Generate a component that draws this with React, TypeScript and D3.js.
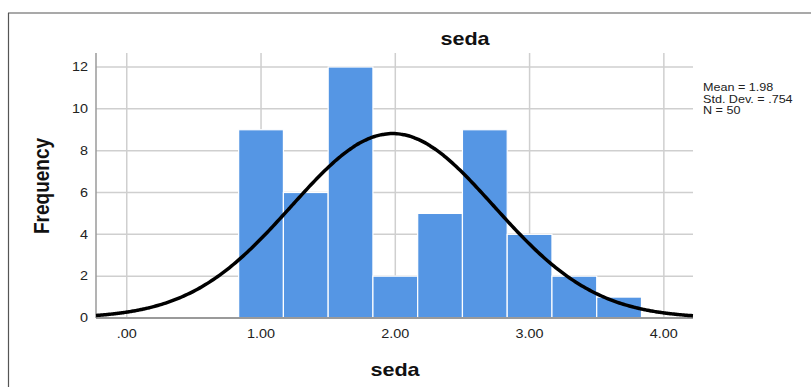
import React, { useEffect } from "react";
import * as d3 from "d3";

const binStarts = [5 / 6, 7 / 6, 9 / 6, 11 / 6, 13 / 6, 15 / 6, 17 / 6, 19 / 6, 21 / 6];
const binWidth = 1 / 3;
const counts = [9, 6, 12, 2, 5, 9, 4, 2, 1];
const xTicks = [0, 1, 2, 3, 4];
const xTickLabels = [".00", "1.00", "2.00", "3.00", "4.00"];
const yTicks = [0, 2, 4, 6, 8, 10, 12];
const mean = 1.98;
const sd = 0.754;
const n = 50;
const statsLines = ["Mean = 1.98", "Std. Dev. = .754", "N = 50"];

const W = 811, H = 387;
const L = 96, R = 693, T = 53, B = 318;
const SX = 1.2;

function SText(props: { x: number; y: number; anchor?: string; size: number; bold?: boolean; children: React.ReactNode }) {
  return (
    <g transform={`translate(${props.x},${props.y}) scale(${SX},1)`}>
      <text x={0} y={0} textAnchor={props.anchor || "start"} fontSize={props.size}
        fontWeight={props.bold ? "bold" : "normal"} fill={props.bold ? "#111" : "#222"}>{props.children}</text>
    </g>
  );
}

export default function App() {
  useEffect(() => {
    document.body.style.margin = "0";
  }, []);
  const x = d3.scaleLinear().domain([-0.229, 4.217]).range([L, R]);
  const y = d3.scaleLinear().domain([0, 12]).range([B, 67]);
  const font = "'Liberation Sans', Arial, sans-serif";
  const pts = d3.range(0, 301).map(i => {
    const v = -0.229 + (4.217 + 0.229) * i / 300;
    const dens = n * binWidth / (sd * Math.sqrt(2 * Math.PI)) * Math.exp(-0.5 * ((v - mean) / sd) ** 2);
    return [v, dens] as [number, number];
  });
  const line = d3.line<[number, number]>().x(d => x(d[0])).y(d => y(d[1])).curve(d3.curveBasis);
  return (
    <svg width={W} height={H} style={{ display: "block" }} fontFamily={font}>
      <rect x={0} y={0} width={W} height={H} fill="#fff" />
      <line x1={8.5} y1={13} x2={8.5} y2={H} stroke="#555" strokeWidth={1.2} />
      <line x1={8} y1={13} x2={W} y2={13} stroke="#555" strokeWidth={1.2} />
      {yTicks.filter(t => t > 0).map(t => (
        <line key={"gy" + t} x1={L} x2={R} y1={y(t)} y2={y(t)} stroke="#cfcfcf" strokeWidth={1.5} />
      ))}
      {xTicks.map(t => (
        <line key={"gx" + t} x1={x(t)} x2={x(t)} y1={T} y2={B} stroke="#cfcfcf" strokeWidth={1.5} />
      ))}
      {counts.map((c, i) => (
        <rect key={"b" + i} x={x(binStarts[i])} y={y(c)} width={x(binStarts[i] + binWidth) - x(binStarts[i])}
          height={B - y(c)} fill="#5596e4" stroke="#fff" strokeWidth={1.2} />
      ))}
      <line x1={L} x2={L} y1={T} y2={B} stroke="#9a9a9a" strokeWidth={1.5} />
      <line x1={L} x2={R} y1={B} y2={B} stroke="#9a9a9a" strokeWidth={2} />
      <path d={line(pts) || ""} fill="none" stroke="#000" strokeWidth={3.5} />
      {yTicks.map(t => (
        <SText key={"ty" + t} x={88} y={y(t) + 4.3} anchor="end" size={12}>{t}</SText>
      ))}
      {xTicks.map((t, i) => (
        <SText key={"tx" + t} x={x(t)} y={337.5} anchor="middle" size={12}>{xTickLabels[i]}</SText>
      ))}
      <SText x={465} y={45} anchor="middle" size={18} bold>seda</SText>
      <SText x={395} y={376} anchor="middle" size={18} bold>seda</SText>
      <g transform={`translate(48.5,${(137 + 235) / 2}) scale(${SX},1) rotate(-90)`}>
        <text x={0} y={0} textAnchor="middle" fontSize={19} fontWeight="bold" fill="#111">Frequency</text>
      </g>
      {statsLines.map((s, i) => (
        <SText key={"s" + i} x={703} y={91 + i * 11.5} size={10.5}>{s}</SText>
      ))}
    </svg>
  );
}
